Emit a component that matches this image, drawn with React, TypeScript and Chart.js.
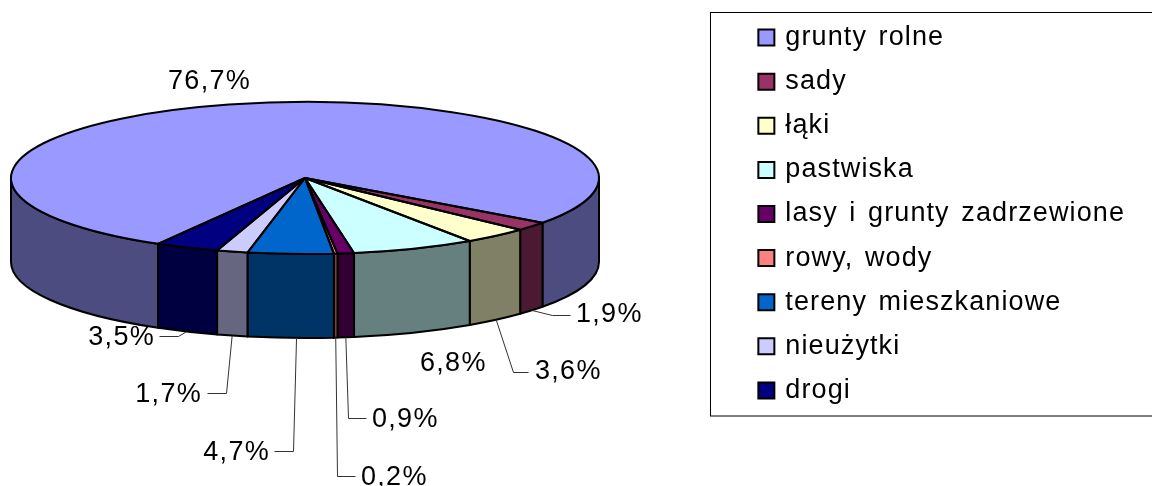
import React, { useEffect, useRef } from "react";
import { Chart, registerables } from "chart.js";

Chart.register(...registerables);

const categories = ["grunty rolne", "sady", "łąki", "pastwiska", "lasy i grunty zadrzewione", "rowy, wody", "tereny mieszkaniowe", "nieużytki", "drogi"];
const shares = [76.7, 1.9, 3.6, 6.8, 0.9, 0.2, 4.7, 1.7, 3.5];
const valueLabels = ["76,7%", "1,9%", "3,6%", "6,8%", "0,9%", "0,2%", "4,7%", "1,7%", "3,5%"];
const topColors = ["#9999FF", "#993366", "#FFFFCC", "#CCFFFF", "#660066", "#FF8080", "#0066CC", "#CCCCFF", "#000080"];
const wallColors = ["#4C4C80", "#4C1933", "#808066", "#668080", "#330033", "#804040", "#003366", "#666680", "#000040"];

type Lab = { x: number; y: number; align: CanvasTextAlign; elbow?: [number, number]; end?: [number, number]; startDx?: number };
const labelLayout: Lab[] = [
  { x: 168, y: 82, align: "left" },
  { x: 576, y: 315, align: "left", elbow: [552, 315], end: [570, 315] },
  { x: 535, y: 372, align: "left", elbow: [513, 372], end: [528, 372] },
  { x: 420, y: 364, align: "left" },
  { x: 372, y: 420, align: "left", elbow: [348, 418], end: [366, 418] },
  { x: 361, y: 478, align: "left", elbow: [337, 476], end: [355, 476] },
  { x: 270, y: 453, align: "right", elbow: [293, 451], end: [274, 451], startDx: 6 },
  { x: 202, y: 395, align: "right", elbow: [226, 393], end: [207, 393] },
  { x: 155, y: 338, align: "right", elbow: [178, 336], end: [159, 336] },
];

const CX = 305, CY = 178, RX = 294, RY = 76, DEPTH = 84;
const FONT = '27px "Liberation Sans", Arial, sans-serif';

function legendSpacing(chart: any) {
  chart.ctx.letterSpacing = "1.1px";
  chart.ctx.wordSpacing = "3px";
}

const pie3d = {
  id: "pie3d",
  beforeUpdate: legendSpacing,
  beforeDraw: legendSpacing,
  beforeDatasetsDraw(chart: any) {
    const ctx = chart.ctx;
    const arcs = chart.getDatasetMeta(0).data;
    ctx.save();
    ctx.strokeStyle = "#000";
    ctx.lineWidth = 1;
    ctx.strokeRect(710.5, 12.5, 460, 403.5);
    ctx.restore();
    ctx.save();
    ctx.lineWidth = 2;
    ctx.strokeStyle = "#000";
    ctx.lineJoin = "round";
    arcs.forEach((el: any, i: number) => {
      const a = el.startAngle, b = el.endAngle;
      const two = Math.PI * 2;
      for (let k = Math.floor(a / two) - 1; k <= Math.floor(b / two) + 1; k++) {
        const lo = Math.max(a, k * two), hi = Math.min(b, k * two + Math.PI);
        if (hi <= lo) continue;
        ctx.beginPath();
        ctx.ellipse(CX, CY, RX, RY, 0, lo, hi);
        ctx.lineTo(CX + RX * Math.cos(hi), CY + RY * Math.sin(hi) + DEPTH);
        ctx.ellipse(CX, CY + DEPTH, RX, RY, 0, hi, lo, true);
        ctx.closePath();
        ctx.fillStyle = wallColors[i];
        ctx.fill();
        ctx.stroke();
      }
    });
    ctx.restore();
  },
  beforeDatasetDraw(chart: any) {
    const ctx = chart.ctx;
    const el = chart.getDatasetMeta(0).data[0];
    const R = el.outerRadius;
    ctx.save();
    ctx.translate(CX, CY);
    ctx.scale(RX / R, RY / R);
    ctx.translate(-el.x, -el.y);
  },
  afterDatasetDraw(chart: any) {
    chart.ctx.restore();
  },
  afterDatasetsDraw(chart: any) {
    const ctx = chart.ctx;
    const arcs = chart.getDatasetMeta(0).data;
    ctx.save();
    ctx.lineWidth = 2;
    ctx.strokeStyle = "#000";
    ctx.lineJoin = "round";
    arcs.forEach((el: any) => {
      ctx.beginPath();
      ctx.moveTo(CX, CY);
      ctx.ellipse(CX, CY, RX, RY, 0, el.startAngle, el.endAngle);
      ctx.closePath();
      ctx.stroke();
    });
    ctx.restore();
    ctx.save();
    ctx.font = FONT;
    ctx.letterSpacing = "1.3px";
    ctx.wordSpacing = "0px";
    ctx.textBaseline = "middle";
    ctx.fillStyle = "#000";
    arcs.forEach((el: any, i: number) => {
      const l = labelLayout[i];
      if (l.elbow && l.end) {
        const mid = (el.startAngle + el.endAngle) / 2;
        ctx.beginPath();
        ctx.moveTo(CX + RX * Math.cos(mid) + (l.startDx || 0), CY + RY * Math.sin(mid) + DEPTH);
        ctx.lineTo(l.elbow[0] + 0.5, l.elbow[1] + 0.5);
        ctx.lineTo(l.end[0] + 0.5, l.end[1] + 0.5);
        ctx.strokeStyle = "#333";
        ctx.lineWidth = 1;
        ctx.stroke();
      }
      ctx.textAlign = l.align;
      ctx.fillText(valueLabels[i], l.x, l.y);
    });
    ctx.restore();
  },
};

export default function App() {
  const ref = useRef<HTMLCanvasElement>(null);
  useEffect(() => {
    const chart = new Chart(ref.current!, {
      type: "pie",
      data: {
        labels: categories,
        datasets: [{ data: shares, backgroundColor: topColors, borderWidth: 0, clip: false } as any],
      },
      plugins: [pie3d],
      options: {
        animation: false,
        responsive: false,
        rotation: 210,
        layout: { padding: { top: 7, right: 17 } },
        plugins: {
          tooltip: { enabled: false },
          title: { display: false },
          legend: {
            position: "right",
            align: "start",
            maxWidth: 600,
            labels: {
              font: { family: '"Liberation Sans", Arial, sans-serif', size: 27, lineHeight: 1 },
              color: "#000",
              boxWidth: 11,
              boxHeight: 16,
              usePointStyle: true,
              padding: 17.1,
              generateLabels: () =>
                categories.map((text, i) => ({
                  text,
                  fillStyle: topColors[i],
                  strokeStyle: "#000",
                  lineWidth: 2,
                  pointStyle: "rect",
                  index: i,
                  fontColor: "#000",
                })),
            },
          },
        },
      } as any,
    });
    return () => chart.destroy();
  }, []);
  return (
    <canvas
      ref={ref}
      width={1152}
      height={486}
      style={{ position: "absolute", left: 0, top: 0, display: "block", width: 1152, height: 486 }}
    />
  );
}
